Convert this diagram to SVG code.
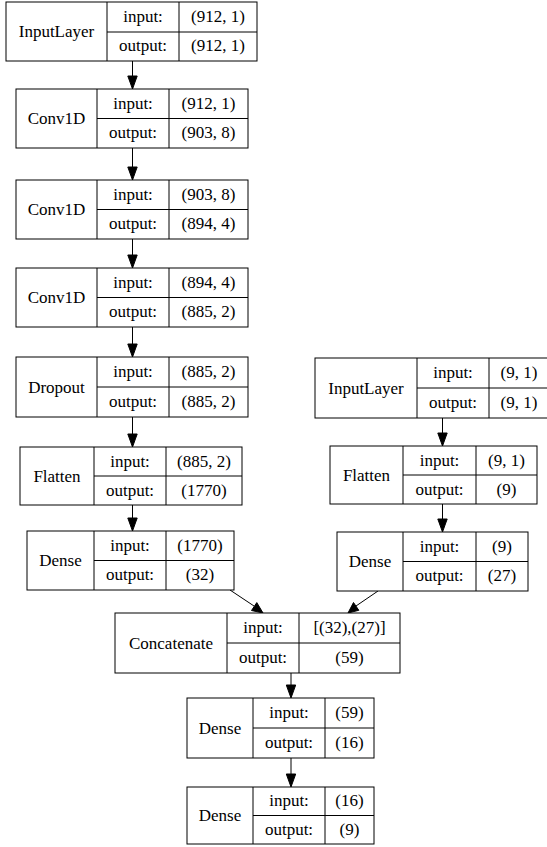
<svg xmlns="http://www.w3.org/2000/svg" width="547" height="847" viewBox="0 0 547 847">
  <style>
    rect { fill: #ffffff; stroke: #000000; stroke-width: 1; }
    line.d { fill: none; stroke: #000000; stroke-width: 1; }
    text { font-family: "Liberation Serif", "DejaVu Serif", serif; font-size: 17px; fill: #000000; text-anchor: middle; }
    .edge line { stroke: #000000; stroke-width: 1; }
    .edge polygon { fill: #000000; stroke: #000000; stroke-width: 1; }
  </style>
  <rect x="0" y="0" width="547" height="847" style="fill:#ffffff;stroke:none"/>

  <!-- connectors -->
  <g id="edges" class="edge">
    <line x1="132.5" y1="61" x2="132.5" y2="77"/>
    <polygon points="132.5,89 127.8,76 137.2,76"/>
    <line x1="132.5" y1="148" x2="132.5" y2="168"/>
    <polygon points="132.5,180 127.8,167 137.2,167"/>
    <line x1="132.5" y1="239" x2="132.5" y2="256"/>
    <polygon points="132.5,268 127.8,255 137.2,255"/>
    <line x1="132.5" y1="327" x2="132.5" y2="345"/>
    <polygon points="132.5,357 127.8,344 137.2,344"/>
    <line x1="132.5" y1="417" x2="132.5" y2="435"/>
    <polygon points="132.5,447 127.8,434 137.2,434"/>
    <line x1="132.5" y1="505" x2="132.5" y2="519"/>
    <polygon points="132.5,531 127.8,518 137.2,518"/>
    <line x1="442.5" y1="418" x2="442.5" y2="434"/>
    <polygon points="442.5,446 437.8,433 447.2,433"/>
    <line x1="442.5" y1="504" x2="442.5" y2="520"/>
    <polygon points="442.5,532 437.8,519 447.2,519"/>
    <line x1="230" y1="590" x2="254" y2="606"/>
    <polygon points="263,613 251.5,610.5 256.8,602.6"/>
    <line x1="378" y1="591" x2="356" y2="606"/>
    <polygon points="348,613 353.5,602.5 358.8,610.3"/>
    <line x1="291" y1="673" x2="291" y2="686"/>
    <polygon points="291,698 286.3,685 295.7,685"/>
    <line x1="291" y1="758" x2="291" y2="775"/>
    <polygon points="291,787 286.3,774 295.7,774"/>
  </g>

  <!-- model layers -->
  <g id="input_1">
    <rect x="6" y="2" width="251" height="59"/>
    <line class="d" x1="107" y1="2" x2="107" y2="61"/>
    <line class="d" x1="179" y1="2" x2="179" y2="61"/>
    <line class="d" x1="107" y1="32" x2="257" y2="32"/>
    <text x="56.5" y="37">InputLayer</text>
    <text x="143" y="22">input:</text>
    <text x="218" y="22">(912, 1)</text>
    <text x="143" y="51">output:</text>
    <text x="218" y="51">(912, 1)</text>
  </g>

  <g id="conv1d_1">
    <rect x="16" y="89" width="232" height="59"/>
    <line class="d" x1="97" y1="89" x2="97" y2="148"/>
    <line class="d" x1="169" y1="89" x2="169" y2="148"/>
    <line class="d" x1="97" y1="118.5" x2="248" y2="118.5"/>
    <text x="56.5" y="124">Conv1D</text>
    <text x="133" y="109">input:</text>
    <text x="208.5" y="109">(912, 1)</text>
    <text x="133" y="138">output:</text>
    <text x="208.5" y="138">(903, 8)</text>
  </g>

  <g id="conv1d_2">
    <rect x="16" y="180" width="232" height="59"/>
    <line class="d" x1="97" y1="180" x2="97" y2="239"/>
    <line class="d" x1="169" y1="180" x2="169" y2="239"/>
    <line class="d" x1="97" y1="209.5" x2="248" y2="209.5"/>
    <text x="56.5" y="215">Conv1D</text>
    <text x="133" y="200">input:</text>
    <text x="208.5" y="200">(903, 8)</text>
    <text x="133" y="229">output:</text>
    <text x="208.5" y="229">(894, 4)</text>
  </g>

  <g id="conv1d_3">
    <rect x="16" y="268" width="232" height="59"/>
    <line class="d" x1="97" y1="268" x2="97" y2="327"/>
    <line class="d" x1="169" y1="268" x2="169" y2="327"/>
    <line class="d" x1="97" y1="297.5" x2="248" y2="297.5"/>
    <text x="56.5" y="303">Conv1D</text>
    <text x="133" y="288">input:</text>
    <text x="208.5" y="288">(894, 4)</text>
    <text x="133" y="317">output:</text>
    <text x="208.5" y="317">(885, 2)</text>
  </g>

  <g id="dropout">
    <rect x="16" y="357" width="232" height="60"/>
    <line class="d" x1="97" y1="357" x2="97" y2="417"/>
    <line class="d" x1="169" y1="357" x2="169" y2="417"/>
    <line class="d" x1="97" y1="387" x2="248" y2="387"/>
    <text x="56.5" y="392.5">Dropout</text>
    <text x="133" y="377">input:</text>
    <text x="208.5" y="377">(885, 2)</text>
    <text x="133" y="407">output:</text>
    <text x="208.5" y="407">(885, 2)</text>
  </g>

  <g id="flatten_1">
    <rect x="20" y="447" width="222" height="58"/>
    <line class="d" x1="94" y1="447" x2="94" y2="505"/>
    <line class="d" x1="166" y1="447" x2="166" y2="505"/>
    <line class="d" x1="94" y1="476" x2="242" y2="476"/>
    <text x="57" y="481.5">Flatten</text>
    <text x="130" y="466.5">input:</text>
    <text x="204" y="466.5">(885, 2)</text>
    <text x="130" y="495.5">output:</text>
    <text x="204" y="495.5">(1770)</text>
  </g>

  <g id="dense_1">
    <rect x="27" y="531" width="207" height="59"/>
    <line class="d" x1="94" y1="531" x2="94" y2="590"/>
    <line class="d" x1="166" y1="531" x2="166" y2="590"/>
    <line class="d" x1="94" y1="560.5" x2="234" y2="560.5"/>
    <text x="60.5" y="566">Dense</text>
    <text x="130" y="551">input:</text>
    <text x="200" y="551">(1770)</text>
    <text x="130" y="580">output:</text>
    <text x="200" y="580">(32)</text>
  </g>

  <g id="input_2">
    <rect x="315" y="358" width="236" height="60"/>
    <line class="d" x1="417" y1="358" x2="417" y2="418"/>
    <line class="d" x1="489" y1="358" x2="489" y2="418"/>
    <line class="d" x1="417" y1="388" x2="551" y2="388"/>
    <text x="366" y="393.5">InputLayer</text>
    <text x="453" y="378">input:</text>
    <text x="519" y="378">(9, 1)</text>
    <text x="453" y="408">output:</text>
    <text x="519" y="408">(9, 1)</text>
  </g>

  <g id="flatten_2">
    <rect x="330" y="446" width="207" height="58"/>
    <line class="d" x1="403" y1="446" x2="403" y2="504"/>
    <line class="d" x1="476" y1="446" x2="476" y2="504"/>
    <line class="d" x1="403" y1="475" x2="537" y2="475"/>
    <text x="366.5" y="480.5">Flatten</text>
    <text x="439.5" y="465.5">input:</text>
    <text x="506.5" y="465.5">(9, 1)</text>
    <text x="439.5" y="494.5">output:</text>
    <text x="506.5" y="494.5">(9)</text>
  </g>

  <g id="dense_2">
    <rect x="337" y="532" width="191" height="59"/>
    <line class="d" x1="403" y1="532" x2="403" y2="591"/>
    <line class="d" x1="476" y1="532" x2="476" y2="591"/>
    <line class="d" x1="403" y1="561.5" x2="528" y2="561.5"/>
    <text x="370" y="567">Dense</text>
    <text x="439.5" y="552">input:</text>
    <text x="502" y="552">(9)</text>
    <text x="439.5" y="581">output:</text>
    <text x="502" y="581">(27)</text>
  </g>

  <g id="concatenate">
    <rect x="115" y="613" width="285" height="60"/>
    <line class="d" x1="227" y1="613" x2="227" y2="673"/>
    <line class="d" x1="299" y1="613" x2="299" y2="673"/>
    <line class="d" x1="227" y1="643" x2="400" y2="643"/>
    <text x="171" y="648.5">Concatenate</text>
    <text x="263" y="633">input:</text>
    <text x="349.5" y="633">[(32),(27)]</text>
    <text x="263" y="663">output:</text>
    <text x="349.5" y="663">(59)</text>
  </g>

  <g id="dense_3">
    <rect x="187" y="698" width="187" height="60"/>
    <line class="d" x1="253" y1="698" x2="253" y2="758"/>
    <line class="d" x1="325" y1="698" x2="325" y2="758"/>
    <line class="d" x1="253" y1="728" x2="374" y2="728"/>
    <text x="220" y="733.5">Dense</text>
    <text x="289" y="718">input:</text>
    <text x="349.5" y="718">(59)</text>
    <text x="289" y="748">output:</text>
    <text x="349.5" y="748">(16)</text>
  </g>

  <g id="dense_4">
    <rect x="187" y="787" width="187" height="57"/>
    <line class="d" x1="253" y1="787" x2="253" y2="844"/>
    <line class="d" x1="325" y1="787" x2="325" y2="844"/>
    <line class="d" x1="253" y1="815.5" x2="374" y2="815.5"/>
    <text x="220" y="821">Dense</text>
    <text x="289" y="806">input:</text>
    <text x="349.5" y="806">(16)</text>
    <text x="289" y="835">output:</text>
    <text x="349.5" y="835">(9)</text>
  </g>
</svg>
